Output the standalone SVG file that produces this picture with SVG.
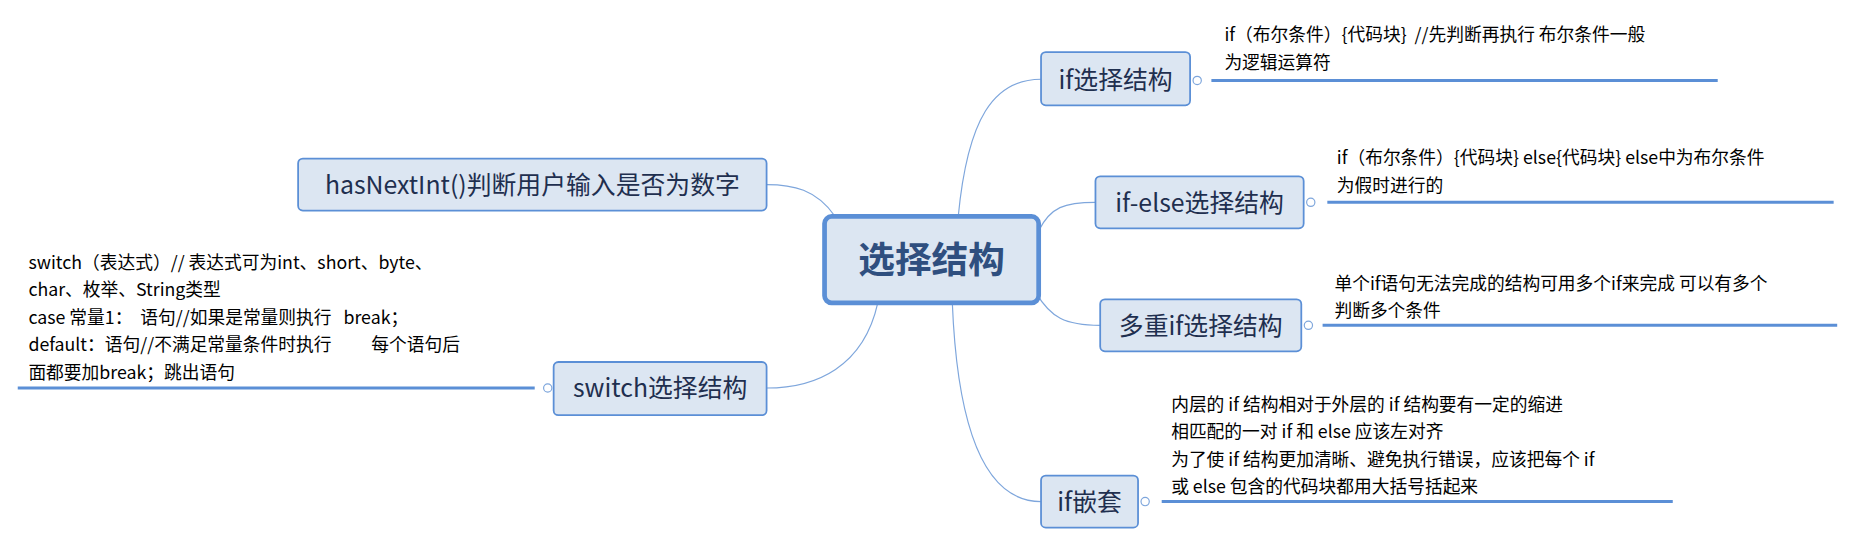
<svg xmlns="http://www.w3.org/2000/svg" width="1855" height="546" viewBox="0 0 1855 546">
<style>
.n{fill:#dce6f2;stroke:#5b8fd6;stroke-width:1.5}
.c{fill:none;stroke:#7ea6dc;stroke-width:1}
.u{stroke:#5b8fd6;stroke-width:2.5}
.o{fill:#fff;stroke:#7ea6dc;stroke-width:1}
.t{font-family:"Noto Sans CJK SC","Liberation Sans",sans-serif;font-size:21px;fill:#1f2f4f}
.s{font-family:"Noto Sans CJK SC","Liberation Sans",sans-serif;font-size:15px;fill:#000;white-space:pre}
</style>
<rect width="1855" height="546" fill="#fff"/>
<g transform="scale(1.183)">
<g id="connectors">
<path class="c" d="M810,183 C818,100 840,67 880,67"/>
<path class="c" d="M878,195 C888,175 900,171 926,171"/>
<path class="c" d="M876,248 C888,268 900,275 930,275"/>
<path class="c" d="M805,256 C810,380 840,424 880,424"/>
<path class="c" d="M706,183 C690,160 670,156 648,156"/>
<path class="c" d="M742,256 C730,310 690,328 648,328"/>
</g>
<g id="center"><rect x="697" y="183" width="181" height="73" rx="6" fill="#dce6f2" stroke="#5b8fd6" stroke-width="4"/>
<text x="787.5" y="231" text-anchor="middle" font-family="Noto Sans CJK SC,sans-serif" font-size="31" font-weight="bold" fill="#2f4f7f">选择结构</text></g>
<g id="if"><rect class="n" x="880" y="44" width="126" height="45" rx="4"/><text class="t" x="943" y="75" text-anchor="middle">if选择结构</text>
<circle class="o" cx="1012" cy="68" r="3.5"/><line class="u" x1="1024" y1="68" x2="1452" y2="68"/>
<text class="s" x="1035" y="35" xml:space="preserve">if（布尔条件）{代码块}  //先判断再执行 布尔条件一般</text><text class="s" x="1035" y="58">为逻辑运算符</text></g>
<g id="ifelse"><rect class="n" x="926" y="149" width="176" height="44" rx="4"/><text class="t" x="1014" y="179" text-anchor="middle">if-else选择结构</text>
<circle class="o" cx="1108" cy="171" r="3.5"/><line class="u" x1="1122" y1="171" x2="1550" y2="171"/>
<text class="s" x="1130" y="139" xml:space="preserve">if（布尔条件）{代码块} else{代码块} else中为布尔条件</text><text class="s" x="1130" y="162">为假时进行的</text></g>
<g id="multi"><rect class="n" x="930" y="253" width="170" height="44" rx="4"/><text class="t" x="1015" y="283" text-anchor="middle">多重if选择结构</text>
<circle class="o" cx="1106" cy="275" r="3.5"/><line class="u" x1="1118" y1="275" x2="1553" y2="275"/>
<text class="s" x="1128" y="245" xml:space="preserve">单个if语句无法完成的结构可用多个if来完成 可以有多个</text><text class="s" x="1128" y="268">判断多个条件</text></g>
<g id="nest"><rect class="n" x="880" y="402" width="82" height="44" rx="4"/><text class="t" x="921" y="432" text-anchor="middle">if嵌套</text>
<circle class="o" cx="968" cy="424" r="3.5"/><line class="u" x1="982" y1="424" x2="1414" y2="424"/>
<text class="s" x="990" y="347" xml:space="preserve">内层的 if 结构相对于外层的 if 结构要有一定的缩进</text>
<text class="s" x="990" y="370" xml:space="preserve">相匹配的一对 if 和 else 应该左对齐</text>
<text class="s" x="990" y="394" xml:space="preserve">为了使 if 结构更加清晰、避免执行错误，应该把每个 if</text>
<text class="s" x="990" y="417" xml:space="preserve">或 else 包含的代码块都用大括号括起来</text></g>
<g id="hasnext"><rect class="n" x="252" y="134" width="396" height="44" rx="4"/><text class="t" x="450" y="164" text-anchor="middle">hasNextInt()判断用户输入是否为数字</text></g>
<g id="switch"><rect class="n" x="468" y="306" width="180" height="45" rx="4"/><text class="t" x="558" y="336" text-anchor="middle">switch选择结构</text>
<circle class="o" cx="463" cy="328" r="3.5"/><line class="u" x1="15" y1="328" x2="452" y2="328"/>
<text class="s" x="24" y="227" xml:space="preserve">switch（表达式）// 表达式可为int、short、byte、</text>
<text class="s" x="24" y="250">char、枚举、String类型</text>
<text class="s" x="24" y="274" xml:space="preserve">case 常量1：  语句//如果是常量则执行   break；</text>
<text class="s" x="24" y="297" xml:space="preserve">default：语句//不满足常量条件时执行          每个语句后</text>
<text class="s" x="24" y="320">面都要加break；跳出语句</text></g>
</g>
</svg>
